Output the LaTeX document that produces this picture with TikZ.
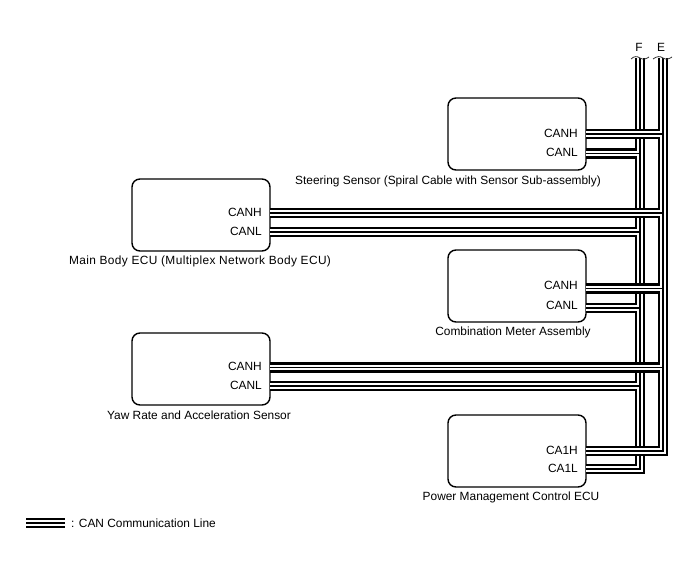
\documentclass[tikz,border=0pt]{standalone}
\usepackage{fontspec}
\setmainfont{Liberation Sans}
\usepackage{tikz}
\usetikzlibrary{positioning}

\tikzset{
	ecu/.style={draw,line width=1.4pt,rounded corners=8pt,minimum width=138pt,minimum height=72pt,outer sep=0pt},
	txt/.style={font=\fontsize{11.9pt}{13pt}\selectfont,inner sep=0pt},
	cable/.style={line width=10.5pt,black,
		postaction={draw=white,line width=5.5pt},
		postaction={draw=black,line width=1.5pt}},
	cut/.style={line width=0.8pt,black!80}
}

\begin{document}
\begin{tikzpicture}[x=1pt,y=1pt]
		\useasboundingbox (0,0) rectangle (688,-560);
		
		\node[ecu,anchor=north west] (body) at (132,-179) {};
		\node[ecu] (steer) [above right = 9pt and 178pt of body] {};
		\node[ecu] (meter) [below right = -1pt and 178pt of body] {};
		\node[ecu] (yaw) [below = 82pt of body] {};
		\node[ecu] (power) [below = 93pt of meter] {};
		
		\node[txt] (steercap) [below = 6pt of steer,xshift=-69pt] {Steering Sensor (Spiral Cable with Sensor Sub-assembly)};
		\node[txt] (bodycap) [below = 5pt of body,xshift=-1pt] {\addfontfeature{LetterSpace=3.2}Main Body ECU (Multiplex Network Body ECU)};
		\node[txt] (metercap) [below = 5pt of meter,xshift=-4pt] {Combination Meter Assembly};
		\node[txt] (yawcap) [below = 6pt of yaw,xshift=-2pt] {Yaw Rate and Acceleration Sensor};
		\node[txt] (powercap) [below = 5pt of power,xshift=-6pt] {Power Management Control ECU};
		
		\coordinate (steerH) at ([yshift=-36pt]steer.north east);
		\coordinate (steerL) at ([yshift=-55.5pt]steer.north east);
		\coordinate (bodyH) at ([yshift=-34pt]body.north east);
		\coordinate (bodyL) at ([yshift=-53pt]body.north east);
		\coordinate (meterH) at ([yshift=-38.5pt]meter.north east);
		\coordinate (meterL) at ([yshift=-58pt]meter.north east);
		\coordinate (yawH) at ([yshift=-34.5pt]yaw.north east);
		\coordinate (yawL) at ([yshift=-53pt]yaw.north east);
		\coordinate (powerH) at ([yshift=-36pt]power.north east);
		\coordinate (powerL) at ([yshift=-54pt]power.north east);
		
		\node[txt] (steerHtxt) [left = 8pt of steerH,yshift=1pt] {CANH};
		\node[txt] (steerLtxt) [left = 8pt of steerL,yshift=1.5pt] {CANL};
		\node[txt] (bodyHtxt) [left = 8pt of bodyH,yshift=1pt] {CANH};
		\node[txt] (bodyLtxt) [left = 8pt of bodyL,yshift=1pt] {CANL};
		\node[txt] (meterHtxt) [left = 8pt of meterH,yshift=3.5pt] {CANH};
		\node[txt] (meterLtxt) [left = 8pt of meterL,yshift=3pt] {CANL};
		\node[txt] (yawHtxt) [left = 8pt of yawH,yshift=1.5pt] {CANH};
		\node[txt] (yawLtxt) [left = 8pt of yawL,yshift=1pt] {CANL};
		\node[txt] (powerHtxt) [left = 8pt of powerH,yshift=1pt] {CA1H};
		\node[txt] (powerLtxt) [left = 8pt of powerL,yshift=1pt] {CA1L};
		
		\node[txt] (F) at (639,-47) {F};
		\node[txt] (E) at (661,-47) {E};
		\coordinate (Ftop) at (640,-58);
		\coordinate (Etop) at (663,-58);
		
		\draw[cable] (powerL) -| (Ftop)
			(steerL) -- (steerL -| Ftop)
			(bodyL) -- (bodyL -| Ftop)
			(meterL) -- (meterL -| Ftop)
			(yawL) -- (yawL -| Ftop);
		\draw[cable] (powerH) -| (Etop)
			(steerH) -- (steerH -| Etop)
			(bodyH) -- (bodyH -| Etop)
			(meterH) -- (meterH -| Etop)
			(yawH) -- (yawH -| Etop);
		
		\draw[cut] ([shift={(-9pt,-1pt)}]Ftop) .. controls ([shift={(-6pt,2pt)}]Ftop) and ([shift={(-3pt,2pt)}]Ftop) .. (Ftop) .. controls ([shift={(3pt,-2pt)}]Ftop) and ([shift={(6pt,-1pt)}]Ftop) .. ([shift={(9pt,1pt)}]Ftop);
		\draw[cut] ([shift={(-10pt,-1pt)}]Etop) .. controls ([shift={(-6pt,2pt)}]Etop) and ([shift={(-3pt,2pt)}]Etop) .. (Etop) .. controls ([shift={(3pt,-2pt)}]Etop) and ([shift={(6pt,-1pt)}]Etop) .. ([shift={(9pt,1pt)}]Etop);
		
		\coordinate (legA) at (26,-523);
		\coordinate (legB) at (65,-523);
		\draw[cable] (legA) -- (legB);
		\node[txt] (legtxt) [right = 6pt of legB] {: CAN Communication Line};
		\end{tikzpicture}
\end{document}
